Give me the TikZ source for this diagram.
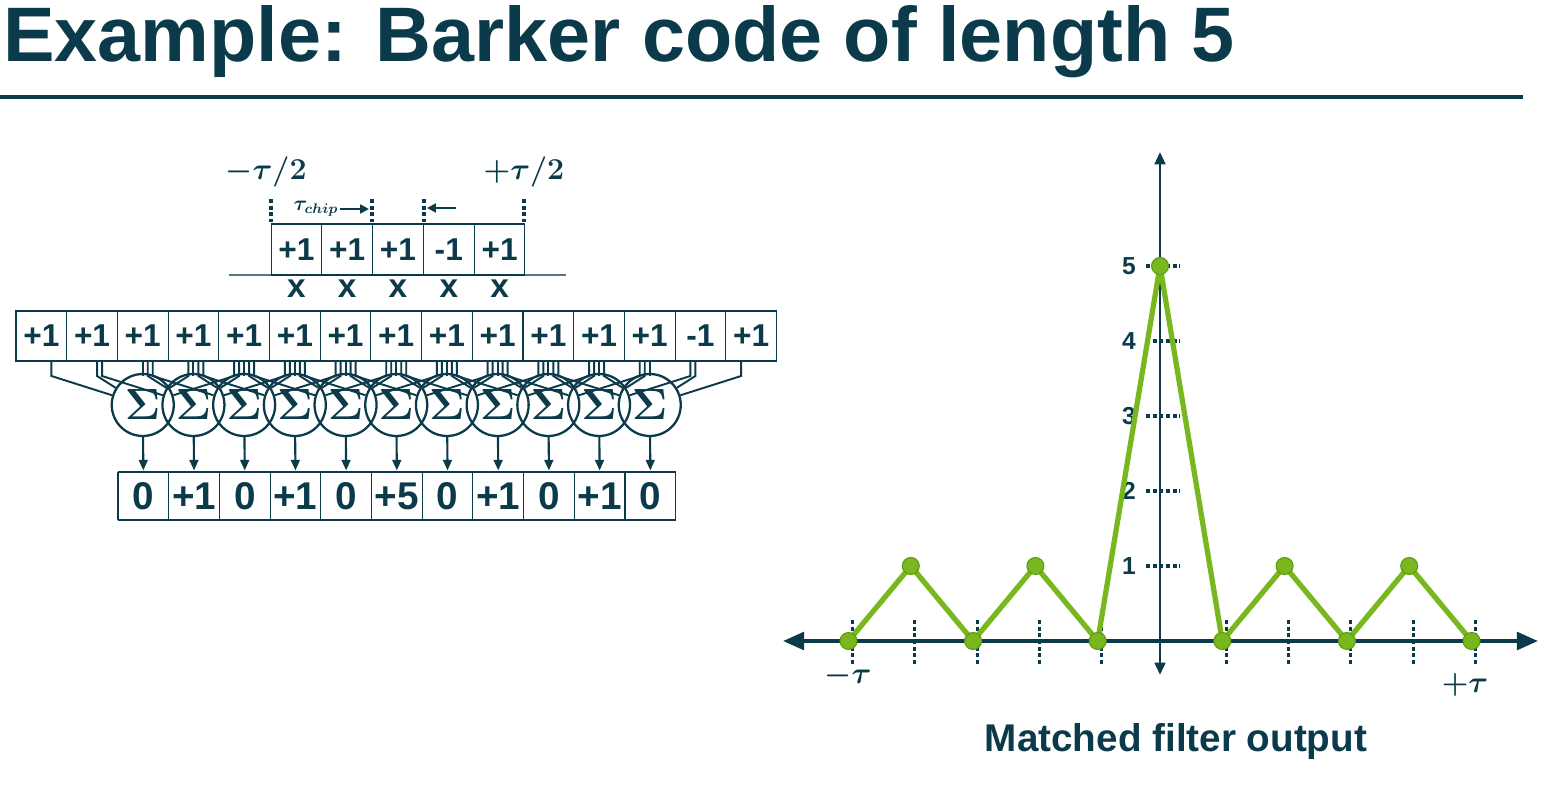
\documentclass[tikz,border=0pt]{standalone}
\usepackage{amsmath}
\usepackage{bm}
\usepackage{fontspec}
\setmainfont{Liberation Serif}
\newfontfamily\bsans{Liberation Sans}
\usetikzlibrary{arrows.meta}
\definecolor{dk}{HTML}{0B3B4A}
\definecolor{gr}{HTML}{78B81E}
\definecolor{grd}{HTML}{5E9A10}
\begin{document}
\begin{tikzpicture}[x=0.02cm,y=-0.02cm,
  cell/.style={draw=dk,line width=0.6pt,minimum width=50.7*0.02cm,minimum height=50*0.02cm,inner sep=0,font=\bsans\bfseries\fontsize{18}{18}\selectfont,text=dk},
  sig/.style={draw=dk,line width=1.3pt,minimum size=62*0.02cm,circle,inner sep=0,font=\fontsize{30}{30}\selectfont,text=dk},
  lbl/.style={font=\bsans\bfseries\fontsize{14}{14}\selectfont,text=dk},
  dots/.style={dk,line width=1.8pt,dash pattern=on 2.2pt off 1.6pt},
  wire/.style={dk,line width=1.1pt},
  dot/.style={circle,fill=gr,draw=grd,line width=0.6pt,minimum size=17*0.02cm,inner sep=0}]
\useasboundingbox (0,0) rectangle (1546,786);
% title
\node[anchor=west,text=dk,inner sep=0,font=\bsans\bfseries\fontsize{44}{44}\selectfont] (title) at (3,42) {Example: Barker code of length 5};
\draw[dk,line width=2.2pt] (0,97) coordinate (r1) -- (1523,97) coordinate (r2);
% top code
\draw[dk!70,line width=0.8pt] (229,275) coordinate (b1) -- (566,275) coordinate (b2);
\foreach \v [count=\i from 0] in {+1,+1,+1,-1,+1}{
  \node[cell,minimum height=51*0.02cm] (t\i) at ({271+50.8*(\i+0.5)},249.5) {\v};
  \node[lbl,font=\bsans\bfseries\fontsize{19}{19}\selectfont] (x\i) at ({271+50.8*(\i+0.5)},289) {x};
}
\foreach \xx [count=\i] in {271,372,424,524}{
  \draw[dots,line width=2pt] (\xx,199) coordinate (da\i) -- (\xx,222) coordinate (db\i);
}
\node[text=dk,font=\fontsize{17}{17}\selectfont] (l1) at (266,172) {$\bm{-\tau/2}$};
\node[text=dk,font=\fontsize{17}{17}\selectfont] (l2) at (524,172) {$\bm{+\tau/2}$};
\node[text=dk,font=\fontsize{12}{12}\selectfont] (tc) at (316,209) {$\bm{\tau_{chip}}$};
\coordinate (a1) at (340,209); \coordinate (a2) at (369,209);
\coordinate (a3) at (456,208); \coordinate (a4) at (427,208);
\draw[dk,line width=1.6pt,-{Triangle[length=5pt,width=5pt]}] (a1) -- (a2);
\draw[dk,line width=1.6pt,-{Triangle[length=5pt,width=5pt]}] (a3) -- (a4);
% input row
\foreach \v [count=\j from 0] in {+1,+1,+1,+1,+1,+1,+1,+1,+1,+1,+1,+1,+1,-1,+1}{
  \node[cell] (c\j) at ({16+50.7*(\j+0.5)},336) {\v};
}
% sums
\foreach \k in {0,...,10}{
  \node[sig] (s\k) at ({16+50.7*(\k+2.5)},405) {$\bm{\Sigma}$};
}
% wires
\foreach \k in {0,...,10}{
  \foreach \d in {0,...,4}{
    \pgfmathtruncatemacro\j{\k+\d}
    \pgfmathsetmacro\cx{16+50.7*(\j+0.5)+(\k-\j+2)*5}
    \draw[wire] (\cx,361) coordinate (w\k-\d) -- (\cx,376) -- (s\k);
  }
}
\foreach \v [count=\k from 0] in {0,+1,0,+1,0,+5,0,+1,0,+1,0}{
  \node[cell,draw=none,font=\bsans\bfseries\fontsize{22}{22}\selectfont] (o\k) at ({118+50.7*(\k+0.5)},496) {\v};
  \draw[dk,line width=1.2pt,-{Triangle[length=6pt,width=5pt]}] (s\k) -- (o\k.north);
}
\foreach \k in {0,...,11}{ \draw[dk,line width=0.6pt] ({118+50.7*\k},472) -- ({118+50.7*\k},520); }
\draw[dk,line width=0.6pt] (118,472) -- (676,472) (118,520) -- (676,520);
% graph
\coordinate (O) at (1160,641);
\draw[dk,line width=2.2pt,{Triangle[length=12pt,width=10pt]}-{Triangle[length=12pt,width=10pt]}] (783,641) coordinate (xl) -- (1538,641) coordinate (xr);
\draw[dk,line width=1.6pt,{Triangle[length=7pt,width=6pt]}-{Triangle[length=7pt,width=6pt]}] (1160,675) coordinate (yb) -- (1160,152) coordinate (yt);
\foreach \i in {-5,...,-1,1,2,3,4,5}{
  \draw[dots] ({1160+62.3*\i+4},620) -- ({1160+62.3*\i+4},665);
}
\foreach \v in {1,...,5}{
  \draw[dots] (1146,{641-75*\v}) -- (1180,{641-75*\v});
  \node[lbl,anchor=east] (yl\v) at (1142,{641-75*\v}) {\v};
}
\node[text=dk,font=\fontsize{17}{17}\selectfont] (mt) at (848,676) {$\bm{-\tau}$};
\node[text=dk,font=\fontsize{17}{17}\selectfont] (pt) at (1465,685) {$\bm{+\tau}$};
\foreach \v [count=\i from 0] in {0,1,0,1,0,5,0,1,0,1,0}{
  \coordinate (p\i) at ({1160+62.3*(\i-5)},{641-75*\v});
}
\draw[gr,line width=3pt,line join=round] (p0)--(p1)--(p2)--(p3)--(p4)--(p5)--(p6)--(p7)--(p8)--(p9)--(p10);
\foreach \i in {0,...,10}{ \node[dot] (q\i) at (p\i) {}; }
\node[text=dk,font=\bsans\bfseries\fontsize{22}{22}\selectfont] (cap) at (1176,742) {Matched filter output};
\end{tikzpicture}
\end{document}
